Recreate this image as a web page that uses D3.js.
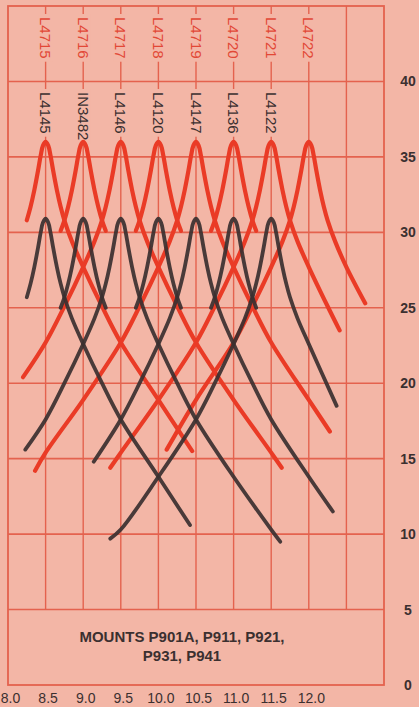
<!DOCTYPE html>
<html><head><meta charset="utf-8">
<script src="https://cdn.jsdelivr.net/npm/d3@7"></script>
<style>
html,body{margin:0;padding:0;background:#f3b6a6;}
svg{display:block;}
</style></head><body>
<svg id="chart" width="419" height="707"></svg>
<script>
// ---- data ----
const xTickValues = [8.0, 8.5, 9.0, 9.5, 10.0, 10.5, 11.0, 11.5, 12.0];
const xTickLabels = ["8.0", "8.5", "9.0", "9.5", "10.0", "10.5", "11.0", "11.5", "12.0"];
const yTickValues = [0, 5, 10, 15, 20, 25, 30, 35, 40];
const redNames = ["L4715", "L4716", "L4717", "L4718", "L4719", "L4720", "L4721", "L4722"];
const redPeaks = [8.5, 9.0, 9.5, 10.0, 10.5, 11.0, 11.5, 12.0];
const blackNames = ["L4145", "IN3482", "L4146", "L4120", "L4147", "L4136", "L4122"];
const blackPeaks = [8.5, 9.0, 9.5, 10.0, 10.5, 11.0, 11.5];
const mountsLines = ["MOUNTS P901A, P911, P921,", "P931, P941"];

const redL4715 = [[8.25,30.8],[8.3,31.7],[8.35,32.8],[8.4,34.1],[8.435,35.1],[8.465,35.75],[8.5,36.0],[8.535,35.75],[8.565,35.1],[8.6,34.1],[8.65,32.8],[8.7,31.7],[8.75,30.8],[8.85,29.4],[9.0,27.7],[9.25,25.1],[9.5,22.7],[10.0,18.9],[10.45,15.5]];
const redL4716 = [[8.7,30.1],[8.75,30.8],[8.8,31.7],[8.85,32.8],[8.9,34.1],[8.935,35.1],[8.965,35.75],[9.0,36.0],[9.035,35.75],[9.065,35.1],[9.1,34.1],[9.15,32.8],[9.2,31.7],[9.25,30.8],[9.3,30.1]];
const redL4717 = [[8.2,20.4],[8.5,22.7],[8.75,25.1],[9.0,27.7],[9.15,29.4],[9.25,30.8],[9.3,31.7],[9.35,32.8],[9.4,34.1],[9.435,35.1],[9.465,35.75],[9.5,36.0],[9.535,35.75],[9.565,35.1],[9.6,34.1],[9.65,32.8],[9.7,31.7],[9.75,30.8],[9.85,29.4],[10.0,27.7],[10.25,25.1],[10.5,22.7],[11.0,18.9],[11.5,15.4],[11.64,14.4]];
const redL4718 = [[9.7,30.1],[9.75,30.8],[9.8,31.7],[9.85,32.8],[9.9,34.1],[9.935,35.1],[9.965,35.75],[10.0,36.0],[10.035,35.75],[10.065,35.1],[10.1,34.1],[10.15,32.8],[10.2,31.7],[10.25,30.8],[10.3,30.1]];
const redL4719 = [[8.36,14.2],[8.5,15.4],[9.0,18.9],[9.5,22.7],[9.75,25.1],[10.0,27.7],[10.15,29.4],[10.25,30.8],[10.3,31.7],[10.35,32.8],[10.4,34.1],[10.435,35.1],[10.465,35.75],[10.5,36.0],[10.535,35.75],[10.565,35.1],[10.6,34.1],[10.65,32.8],[10.7,31.7],[10.75,30.8],[10.85,29.4],[11.0,27.7],[11.25,25.1],[11.5,22.7],[12.0,18.9],[12.28,16.8]];
const redL4720 = [[10.7,30.1],[10.75,30.8],[10.8,31.7],[10.85,32.8],[10.9,34.1],[10.935,35.1],[10.965,35.75],[11.0,36.0],[11.035,35.75],[11.065,35.1],[11.1,34.1],[11.15,32.8],[11.2,31.7],[11.25,30.8],[11.3,30.1]];
const redL4721 = [[9.36,14.4],[9.5,15.4],[10.0,18.9],[10.5,22.7],[10.75,25.1],[11.0,27.7],[11.15,29.4],[11.25,30.8],[11.3,31.7],[11.35,32.8],[11.4,34.1],[11.435,35.1],[11.465,35.75],[11.5,36.0],[11.535,35.75],[11.565,35.1],[11.6,34.1],[11.65,32.8],[11.7,31.7],[11.75,30.8],[11.85,29.4],[12.0,27.7],[12.25,25.1],[12.41,23.5]];
const redL4722 = [[10.11,15.6],[10.5,18.9],[11.0,22.7],[11.25,25.1],[11.5,27.7],[11.65,29.4],[11.75,30.8],[11.8,31.7],[11.85,32.8],[11.9,34.1],[11.935,35.1],[11.965,35.75],[12.0,36.0],[12.035,35.75],[12.065,35.1],[12.1,34.1],[12.15,32.8],[12.2,31.7],[12.25,30.8],[12.35,29.4],[12.5,27.7],[12.75,25.3]];

const blackL4145 = [[8.25,25.7],[8.3,26.6],[8.35,27.7],[8.4,29.0],[8.435,30.0],[8.465,30.65],[8.5,30.9],[8.535,30.65],[8.565,30.0],[8.6,29.0],[8.65,27.7],[8.7,26.6],[8.75,25.7],[8.85,24.3],[9.0,22.6],[9.25,20.0],[9.5,17.6],[10.0,13.8],[10.42,10.6]];
const blackIN3482 = [[8.7,25.0],[8.75,25.7],[8.8,26.6],[8.85,27.7],[8.9,29.0],[8.935,30.0],[8.965,30.65],[9.0,30.9],[9.035,30.65],[9.065,30.0],[9.1,29.0],[9.15,27.7],[9.2,26.6],[9.25,25.7],[9.3,25.0]];
const blackL4146 = [[8.23,15.6],[8.5,17.6],[8.75,20.0],[9.0,22.6],[9.15,24.3],[9.25,25.7],[9.3,26.6],[9.35,27.7],[9.4,29.0],[9.435,30.0],[9.465,30.65],[9.5,30.9],[9.535,30.65],[9.565,30.0],[9.6,29.0],[9.65,27.7],[9.7,26.6],[9.75,25.7],[9.85,24.3],[10.0,22.6],[10.25,20.0],[10.5,17.6],[11.0,13.8],[11.5,10.3],[11.62,9.5]];
const blackL4120 = [[9.7,25.0],[9.75,25.7],[9.8,26.6],[9.85,27.7],[9.9,29.0],[9.935,30.0],[9.965,30.65],[10.0,30.9],[10.035,30.65],[10.065,30.0],[10.1,29.0],[10.15,27.7],[10.2,26.6],[10.25,25.7],[10.3,25.0]];
const blackL4147 = [[9.14,14.8],[9.5,17.6],[9.75,20.0],[10.0,22.6],[10.15,24.3],[10.25,25.7],[10.3,26.6],[10.35,27.7],[10.4,29.0],[10.435,30.0],[10.465,30.65],[10.5,30.9],[10.535,30.65],[10.565,30.0],[10.6,29.0],[10.65,27.7],[10.7,26.6],[10.75,25.7],[10.85,24.3],[11.0,22.6],[11.25,20.0],[11.5,17.6],[12.0,13.8],[12.32,11.5]];
const blackL4136 = [[10.7,25.0],[10.75,25.7],[10.8,26.6],[10.85,27.7],[10.9,29.0],[10.935,30.0],[10.965,30.65],[11.0,30.9],[11.035,30.65],[11.065,30.0],[11.1,29.0],[11.15,27.7],[11.2,26.6],[11.25,25.7],[11.3,25.0]];
const blackL4122 = [[9.36,9.7],[9.5,10.3],[10.0,13.8],[10.5,17.6],[10.75,20.0],[11.0,22.6],[11.15,24.3],[11.25,25.7],[11.3,26.6],[11.35,27.7],[11.4,29.0],[11.435,30.0],[11.465,30.65],[11.5,30.9],[11.535,30.65],[11.565,30.0],[11.6,29.0],[11.65,27.7],[11.7,26.6],[11.75,25.7],[11.85,24.3],[12.0,22.6],[12.37,18.5]];

const redSeries = [redL4715, redL4716, redL4717, redL4718, redL4719, redL4720, redL4721, redL4722];
const blackSeries = [blackL4145, blackIN3482, blackL4146, blackL4120, blackL4147, blackL4136, blackL4122];

// ---- drawing ----
const BG = "#f3b6a6", GRID = "#e4624e", RED = "#ea3b26", DARK = "#3b3030";
const svg = d3.select("#chart");
svg.append("rect").attr("width", 419).attr("height", 707).attr("fill", BG);

const x = d3.scaleLinear().domain([8, 13]).range([8, 384]);
const y = d3.scaleLinear().domain([0, 45]).range([685, 6]);

const grid = svg.append("g");
grid.selectAll("line.v").data(d3.range(8.5, 12.51, 0.5)).join("line")
  .attr("x1", d => x(d)).attr("x2", d => x(d))
  .attr("y1", y(45)).attr("y2", y(5))
  .attr("stroke", GRID).attr("stroke-width", 1.4);
grid.selectAll("line.h").data([5,10,15,20,25,30,35,40]).join("line")
  .attr("x1", x(8)).attr("x2", x(13))
  .attr("y1", d => y(d)).attr("y2", d => y(d))
  .attr("stroke", GRID).attr("stroke-width", 1.6);
grid.append("rect").attr("x", x(8)).attr("y", y(45))
  .attr("width", x(13) - x(8)).attr("height", y(0) - y(45))
  .attr("fill", "none").attr("stroke", GRID).attr("stroke-width", 1.8);

function peakLabels(names, peaks, startY, color, size) {
  const g = svg.append("g");
  names.forEach((name, i) => {
    const lg = g.append("g").attr("transform", `translate(${x(peaks[i])},${startY}) rotate(90)`);
    const r = lg.append("rect").attr("fill", BG);
    const t = lg.append("text").text(name)
      .attr("x", 0).attr("y", 0).attr("dy", "0.36em")
      .attr("font-family", "Liberation Sans, Arial, sans-serif")
      .attr("font-size", size).attr("fill", color);
    const len = t.node().getComputedTextLength();
    r.attr("x", -3).attr("y", -7).attr("width", len + 6).attr("height", 14);
  });
}
peakLabels(redNames, redPeaks, 17, "#e24836", 15);
peakLabels(blackNames, blackPeaks, 92, DARK, 15);

const line = d3.line().x(d => x(d[0])).y(d => y(d[1])).curve(d3.curveCatmullRom.alpha(0.5));
svg.append("g").selectAll("path").data(redSeries).join("path")
  .attr("d", line).attr("fill", "none").attr("stroke", RED)
  .attr("stroke-width", 4.2).attr("stroke-linecap", "round").attr("stroke-linejoin", "round");
svg.append("g").selectAll("path").data(blackSeries).join("path")
  .attr("d", line).attr("fill", "none").attr("stroke", DARK)
  .attr("stroke-width", 3.8).attr("stroke-linecap", "round").attr("stroke-linejoin", "round")
  .attr("opacity", 0.92);

const xAxis = d3.axisBottom(x).tickValues(xTickValues)
  .tickFormat((d, i) => xTickLabels[i]).tickSize(0).tickPadding(0);
const gx = svg.append("g").attr("transform", "translate(0,693)").call(xAxis);
gx.select(".domain").remove();
gx.selectAll("text").attr("font-family", "Liberation Sans Narrow, Liberation Sans, Arial, sans-serif")
  .attr("font-size", 14).attr("fill", DARK).attr("dx", 2);

const yAxis = d3.axisRight(y).tickValues(yTickValues).tickSize(0).tickPadding(0);
const gy = svg.append("g").attr("transform", "translate(408,0)").call(yAxis);
gy.select(".domain").remove();
gy.selectAll("text").attr("text-anchor", "middle").attr("x", 0)
  .attr("font-family", "Liberation Sans, Arial, sans-serif")
  .attr("font-weight", "bold").attr("font-size", 14).attr("fill", DARK);

svg.append("g").selectAll("text").data(mountsLines).join("text")
  .attr("x", 182).attr("y", (d, i) => 642 + i * 19)
  .attr("text-anchor", "middle")
  .attr("font-family", "Liberation Sans, Arial, sans-serif")
  .attr("font-weight", "bold").attr("font-size", 15).attr("fill", DARK)
  .text(d => d);
</script>
</body></html>
